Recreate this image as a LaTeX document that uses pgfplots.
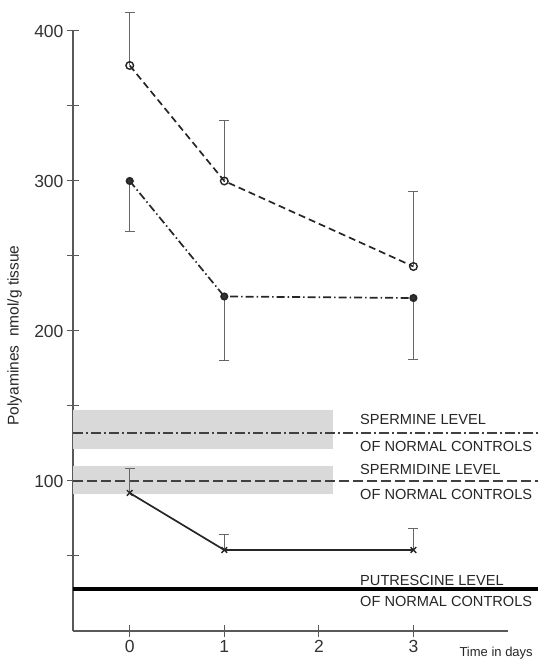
\documentclass[border=0pt]{standalone}
\usepackage{fontspec}
\setmainfont{Liberation Sans}
\usepackage{pgfplots}
\pgfplotsset{compat=1.18}
\begin{document}
\begin{tikzpicture}
\useasboundingbox (-73pt,-30pt) rectangle (465pt,631pt);
\begin{axis}[
 scale only axis, width=435pt, height=600pt,
 xmin=-0.6, xmax=4.0, ymin=0, ymax=400,
 axis lines=left, axis line style={-, black!65, line width=1.2pt},
 xtick={0,1,2,3}, ytick={100,200,300,400}, minor ytick={50,150,250,350},
 tick align=center, major tick length=12pt, minor tick length=12pt,
 tick style={black!65, line width=1pt},
 ticklabel style={font=\fontsize{17.5}{20}\selectfont, text=black!80},
 /pgf/number format/assume math mode=true,
 clip=false,
]
% shaded bands
\addplot[draw=none, fill=gray!30] coordinates {(-0.6,121) (2.15,121) (2.15,147) (-0.6,147)} -- cycle;
\addplot[draw=none, fill=gray!30] coordinates {(-0.6,91) (2.15,91) (2.15,110) (-0.6,110)} -- cycle;
% reference lines
\addplot[black!75, line width=2pt, dash pattern=on 10pt off 3pt on 2pt off 3pt] coordinates {(-0.6,132) (4.32,132)};
\addplot[black!75, line width=2pt, dash pattern=on 10pt off 4pt] coordinates {(-0.6,100) (4.32,100)};
\addplot[black, line width=3.5pt] coordinates {(-0.6,28) (4.32,28)};
% open circles
\addplot[black!85, line width=1.7pt, dash pattern=on 7pt off 4pt, mark=o, mark size=3.8pt,
  mark options={solid, fill=white, line width=1.4pt},
  error bars/.cd, y dir=plus, y explicit,
  error bar style={black!60, line width=1pt, solid},
  error mark options={rotate=90, mark size=5pt, black!60, line width=1pt, solid}]
  coordinates {(0,377) +- (0,35) (1,300) +- (0,40) (3,243) +- (0,50)};
% filled circles
\addplot[black!85, line width=1.7pt, dash pattern=on 8pt off 3pt on 1.5pt off 3pt, mark=*, mark size=3.2pt,
  mark options={solid, fill=black!80},
  error bars/.cd, y dir=minus, y explicit,
  error bar style={black!60, line width=1pt, solid},
  error mark options={rotate=90, mark size=5pt, black!60, line width=1pt, solid}]
  coordinates {(0,300) +- (0,34) (1,223) +- (0,43) (3,222) +- (0,41)};
% crosses
\addplot[black!85, line width=1.7pt, mark=x, mark size=4pt,
  mark options={solid, line width=1.4pt},
  error bars/.cd, y dir=plus, y explicit,
  error bar style={black!60, line width=1pt, solid},
  error mark options={rotate=90, mark size=5pt, black!60, line width=1pt, solid}]
  coordinates {(0,92) +- (0,16) (1,54) +- (0,10) (3,54) +- (0,14)};
% labels
\node[anchor=west, font=\fontsize{14.6}{17}\selectfont, text=black!85] at (axis cs:2.40,141) {SPERMINE LEVEL};
\node[anchor=west, font=\fontsize{14.6}{17}\selectfont, text=black!85] at (axis cs:2.40,123) {OF NORMAL CONTROLS};
\node[anchor=west, font=\fontsize{14.6}{17}\selectfont, text=black!85] at (axis cs:2.40,108) {SPERMIDINE LEVEL};
\node[anchor=west, font=\fontsize{14.6}{17}\selectfont, text=black!85] at (axis cs:2.40,91) {OF NORMAL CONTROLS};
\node[anchor=west, font=\fontsize{14.6}{17}\selectfont, text=black!85] at (axis cs:2.40,34) {PUTRESCINE LEVEL};
\node[anchor=west, font=\fontsize{14.6}{17}\selectfont, text=black!85] at (axis cs:2.40,20) {OF NORMAL CONTROLS};
\node[anchor=west, font=\fontsize{13}{15}\selectfont, text=black!85] at (axis cs:3.45,-14.7) {Time in days};
\node[rotate=90, font=\fontsize{15.5}{17}\selectfont, text=black!85] at (axis cs:-1.217,197) {Polyamines\ \ nmol/g tissue};
\end{axis}
\end{tikzpicture}
\end{document}
